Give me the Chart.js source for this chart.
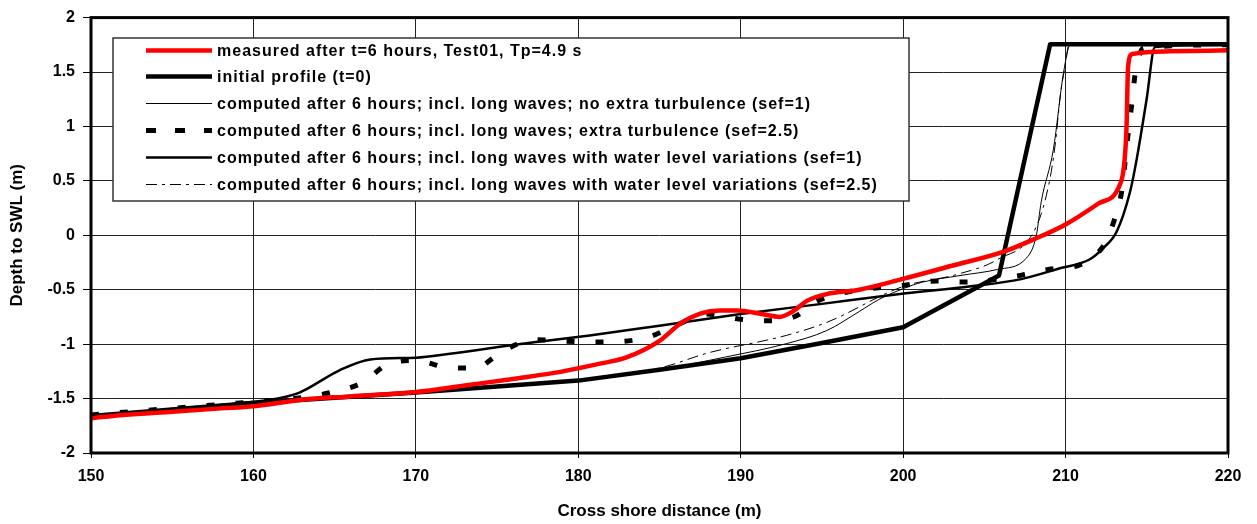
<!DOCTYPE html>
<html>
<head>
<meta charset="utf-8">
<script src="https://cdn.jsdelivr.net/npm/chart.js@4"></script>
<style>
  body { margin: 0; background: #fff; }
  #wrap { width: 1257px; height: 524px; }
</style>
</head>
<body>
<div id="wrap"><canvas id="profileChart"></canvas></div>
<script>
// series labels (legend order)
const seriesLabels = [
    'measured after t=6 hours, Test01, Tp=4.9 s',
    'initial profile (t=0)',
    'computed after 6 hours; incl. long waves; no extra turbulence (sef=1)',
    'computed after 6 hours; incl. long waves; extra turbulence (sef=2.5)',
    'computed after 6 hours; incl. long waves with water level variations (sef=1)',
    'computed after 6 hours; incl. long waves with water level variations (sef=2.5)'
];

// measured profile
const measuredX = [150, 152, 155, 158, 160, 163, 166, 170, 173, 176.2, 178.9, 181, 183, 185, 186.3, 187.5, 188.7, 189.8, 191.2, 192.4, 193.2, 194.1, 195.3, 197.3, 200, 203, 206.2, 208, 210, 212, 213.3, 213.6, 213.75, 213.85, 214.1, 216.4, 220];
const measuredY = [-1.68, -1.65, -1.62, -1.59, -1.57, -1.51, -1.48, -1.44, -1.38, -1.315, -1.255, -1.19, -1.12, -0.97, -0.81, -0.72, -0.69, -0.69, -0.72, -0.75, -0.70, -0.60, -0.54, -0.50, -0.40, -0.28, -0.15, -0.04, 0.10, 0.29, 0.45, 0.64, 0.98, 1.55, 1.665, 1.69, 1.70];

// initial profile
const initialX = [150, 160, 170, 180, 185, 190, 195, 200, 205.9, 209.05, 220];
const initialY = [-1.66, -1.54, -1.445, -1.335, -1.235, -1.13, -0.99, -0.845, -0.37, 1.755, 1.755];

// long waves, no extra turbulence (sef=1)
const noTurbX = [150, 160, 170, 180, 185, 189, 192.8, 195.3, 197.3, 198.5, 200, 201.2, 203.5, 205.8, 207.6, 208.2, 208.5, 209.25, 209.87, 210.3, 220];
const noTurbY = [-1.66, -1.54, -1.445, -1.335, -1.235, -1.12, -0.996, -0.875, -0.70, -0.59, -0.49, -0.43, -0.37, -0.314, -0.208, 0.0, 0.307, 0.79, 1.49, 1.75, 1.75];

// long waves, extra turbulence (sef=2.5)
const turbX = [150, 160, 162.5, 164.7, 166.7, 168.2, 170, 171.8, 173.6, 175.4, 177.2, 180.8, 182.6, 184.3, 186, 187.9, 189.9, 191.6, 193.3, 194.8, 196.6, 200, 202.1, 203.8, 207.3, 209.1, 210.9, 212.4, 213.0, 213.45, 213.66, 213.86, 214.07, 214.28, 214.8, 220];
const turbY = [-1.65, -1.53, -1.50, -1.446, -1.354, -1.19, -1.15, -1.21, -1.22, -1.06, -0.96, -0.98, -0.975, -0.936, -0.83, -0.723, -0.77, -0.785, -0.748, -0.60, -0.52, -0.46, -0.42, -0.43, -0.366, -0.31, -0.27, -0.08, 0.14, 0.40, 0.67, 0.945, 1.20, 1.475, 1.72, 1.75];

// long waves with water level variations (sef=1)
const wlvX = [150, 160, 161.8, 162.9, 165.3, 167.2, 170, 172.1, 175.4, 177.4, 180.7, 185, 190, 195, 199.8, 204.3, 207.2, 209.5, 211.5, 212.3, 213.15, 213.97, 214.38, 214.99, 215.5, 220];
const wlvY = [-1.66, -1.53, -1.49, -1.44, -1.24, -1.14, -1.124, -1.088, -1.02, -0.98, -0.92, -0.83, -0.723, -0.63, -0.54, -0.466, -0.405, -0.31, -0.22, -0.12, 0.035, 0.40, 0.70, 1.25, 1.73, 1.75];

// long waves with water level variations (sef=2.5)
const wlvTurbX = [150, 160, 170, 180, 185, 188, 192.8, 195.3, 200, 203.3, 205.8, 208.2, 209.0, 209.35, 209.7, 210.0, 210.2, 220];
const wlvTurbY = [-1.65, -1.53, -1.435, -1.325, -1.22, -1.08, -0.92, -0.80, -0.47, -0.36, -0.223, 0.08, 0.49, 0.82, 1.31, 1.58, 1.75, 1.75];

function pairs(xs, ys) {
    return xs.map((x, i) => ({ x: x, y: ys[i] }));
}

const FONT = '"Liberation Sans", Arial, sans-serif';

// plot frame + boxed legend inside the plot area
const frameAndLegend = {
    id: 'frameAndLegend',
    afterDatasetsDraw(chart) {
        const { ctx, chartArea: a } = chart;
        ctx.save();
        ctx.strokeStyle = '#000';
        ctx.lineWidth = 3;
        ctx.strokeRect(a.left, a.top, a.right - a.left, a.bottom - a.top);
        ctx.restore();
    },
    afterDraw(chart) {
        const ctx = chart.ctx;
        ctx.save();
        ctx.fillStyle = '#fff';
        ctx.fillRect(113, 38, 796, 163);
        ctx.strokeStyle = '#333';
        ctx.lineWidth = 1.5;
        ctx.strokeRect(113, 38, 796, 163);
        ctx.font = 'bold 16px ' + FONT;
        ctx.textBaseline = 'middle';
        ctx.textAlign = 'left';
        if ('letterSpacing' in ctx) ctx.letterSpacing = '1px';
        chart.data.datasets.forEach((ds, i) => {
            const y = Math.round(49.5 + i * 26.8) + 0.5;
            ctx.beginPath();
            ctx.strokeStyle = ds.borderColor;
            ctx.lineWidth = ds.borderWidth;
            // legend sample uses the longer dash seen in the key
            ctx.setLineDash(i === 3 ? [10, 19] : (ds.borderDash || []));
            ctx.lineCap = 'butt';
            ctx.moveTo(146, y);
            ctx.lineTo(212, y);
            ctx.stroke();
            ctx.setLineDash([]);
            ctx.fillStyle = '#000';
            ctx.fillText(ds.label, 217, y + 1);
        });
        ctx.restore();
    }
};

const ctx = document.getElementById('profileChart').getContext('2d');
new Chart(ctx, {
    type: 'line',
    data: {
        datasets: [{
            label: seriesLabels[0],
            data: pairs(measuredX, measuredY),
            borderColor: '#ff0000',
            borderWidth: 4.5,
            cubicInterpolationMode: 'monotone'
        }, {
            label: seriesLabels[1],
            data: pairs(initialX, initialY),
            borderColor: '#000',
            borderWidth: 4.5,
            tension: 0
        }, {
            label: seriesLabels[2],
            data: pairs(noTurbX, noTurbY),
            borderColor: '#000',
            borderWidth: 1,
            cubicInterpolationMode: 'monotone'
        }, {
            label: seriesLabels[3],
            data: pairs(turbX, turbY),
            borderColor: '#000',
            borderWidth: 5,
            borderDash: [8, 21],
            cubicInterpolationMode: 'monotone'
        }, {
            label: seriesLabels[4],
            data: pairs(wlvX, wlvY),
            borderColor: '#000',
            borderWidth: 2.5,
            cubicInterpolationMode: 'monotone'
        }, {
            label: seriesLabels[5],
            data: pairs(wlvTurbX, wlvTurbY),
            borderColor: '#000',
            borderWidth: 1,
            borderDash: [11, 5, 3, 5],
            cubicInterpolationMode: 'monotone'
        }]
    },
    options: {
        responsive: true,
        maintainAspectRatio: false,
        animation: false,
        layout: {
            padding: { left: 0, right: 29, top: 14, bottom: 0 }
        },
        elements: {
            point: { radius: 0, hoverRadius: 0 },
            line: { borderCapStyle: 'butt', borderJoinStyle: 'round' }
        },
        plugins: {
            legend: { display: false },
            tooltip: { enabled: false }
        },
        scales: {
            x: {
                type: 'linear',
                min: 150,
                max: 220,
                afterFit: s => { s.height = 71; },
                ticks: {
                    stepSize: 10,
                    color: '#000',
                    padding: 9,
                    maxRotation: 0,
                    font: { family: FONT, size: 16, weight: 'bold' }
                },
                grid: { color: '#222', lineWidth: 1, tickLength: 5, tickColor: '#000' },
                border: { display: false },
                title: {
                    display: true,
                    text: 'Cross shore distance (m)',
                    color: '#000',
                    padding: { top: 4, bottom: 2 },
                    font: { family: FONT, size: 17, weight: 'bold' }
                }
            },
            y: {
                min: -2,
                max: 2,
                afterFit: s => { s.width = 91; },
                ticks: {
                    stepSize: 0.5,
                    color: '#000',
                    padding: 8,
                    font: { family: FONT, size: 16, weight: 'bold' },
                    callback: v => String(Math.round(v * 10) / 10)
                },
                grid: { color: '#222', lineWidth: 1, tickLength: 8, tickColor: '#000' },
                border: { display: false },
                title: {
                    display: true,
                    text: 'Depth to SWL (m)',
                    color: '#000',
                    padding: { top: 7, bottom: 4 },
                    font: { family: FONT, size: 17, weight: 'bold' }
                }
            }
        }
    },
    plugins: [frameAndLegend]
});
</script>
</body>
</html>
